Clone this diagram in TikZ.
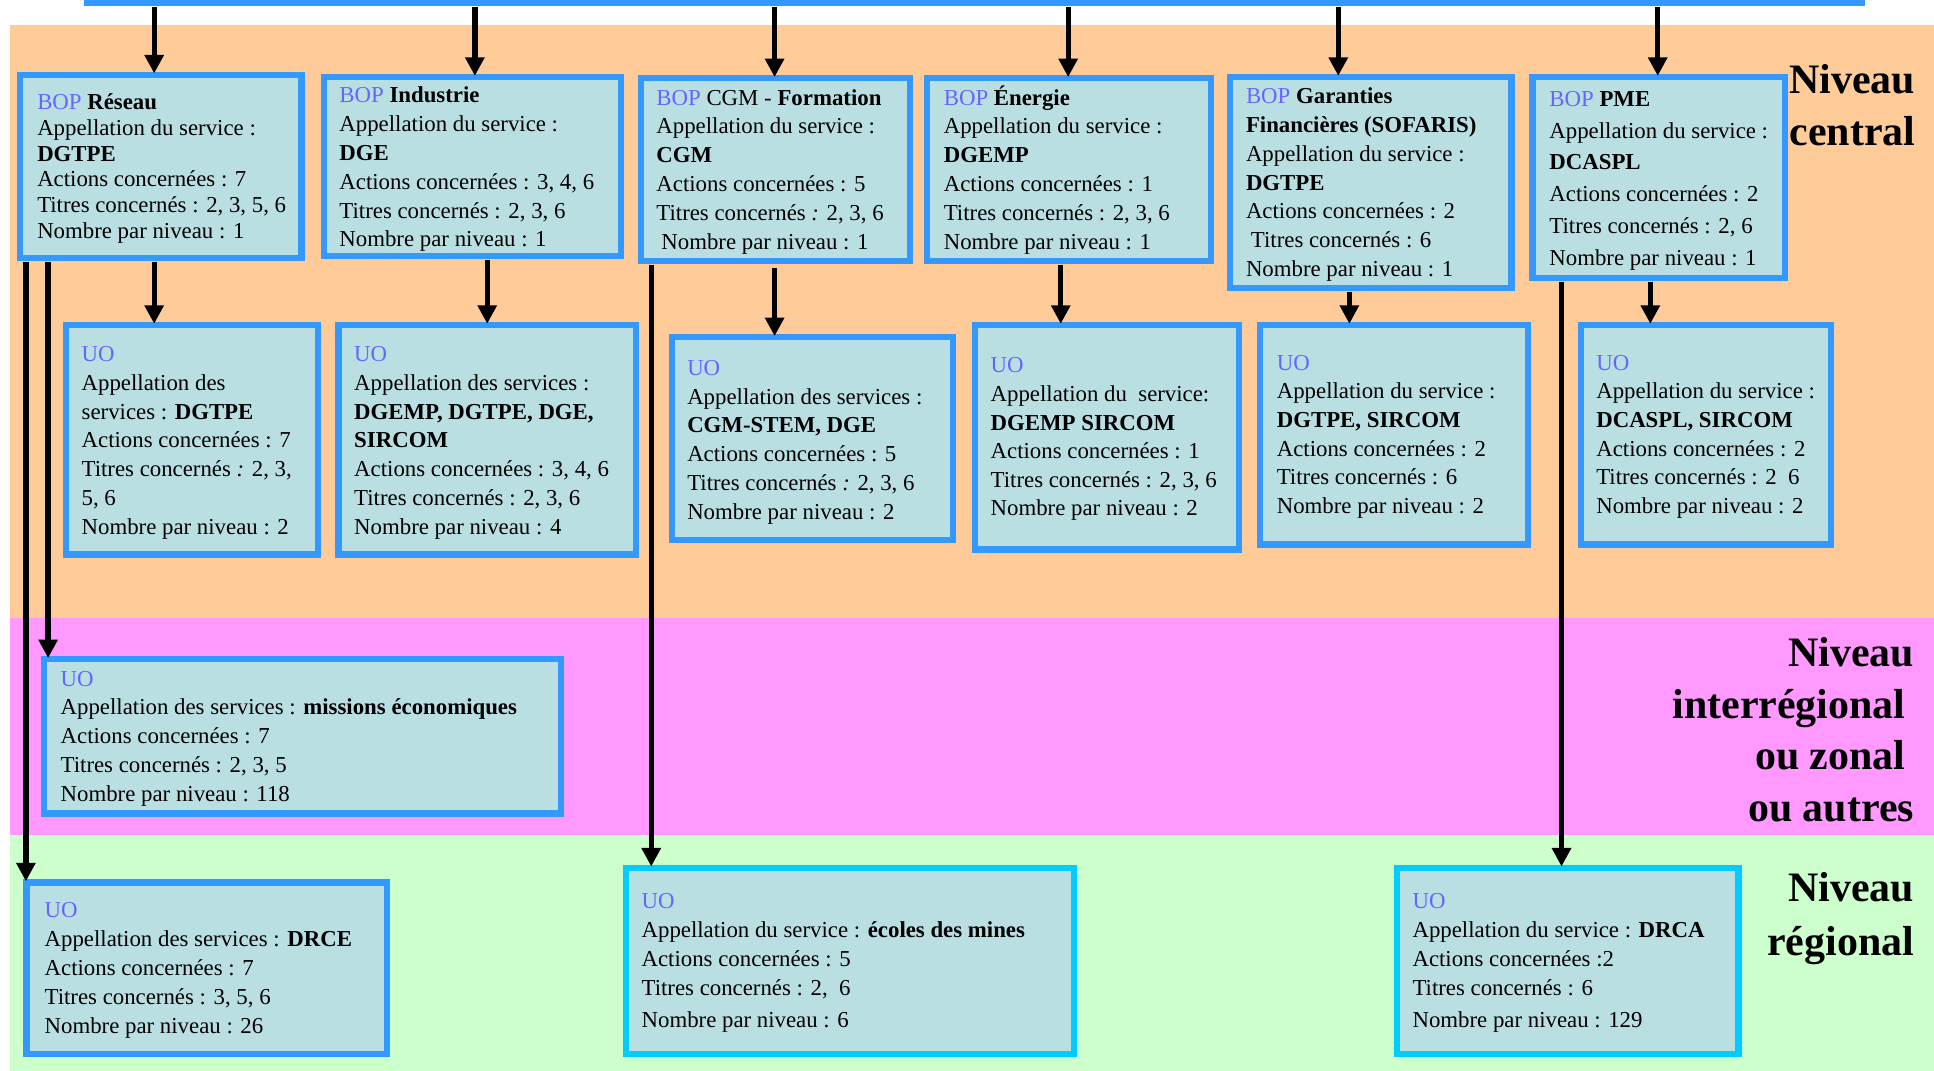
\documentclass[tikz,border=0pt]{standalone}
\usepackage{fontspec}
\setmainfont{Liberation Serif}
\usetikzlibrary{arrows.meta,calc}
\definecolor{boxfill}{HTML}{BADFE3}
\definecolor{boxblue}{HTML}{3399FF}
\definecolor{boxcyan}{HTML}{00CCFF}
\definecolor{bandorange}{HTML}{FFCC99}
\definecolor{bandpink}{HTML}{FF99FF}
\definecolor{bandgreen}{HTML}{CCFFCC}
\definecolor{bopcol}{HTML}{6666FF}
\definecolor{toppink}{HTML}{F8C8D0}
\newcommand{\mkbox}[6]{\node[#6, minimum width={(#4-(#2)-5)*1pt}, minimum height={(#5-(#3)-5)*1pt}] (#1) at ({(#2+#4)/2},{(#3+#5)/2}) {};}
\newcommand{\bop}{\textcolor{bopcol}{BOP}}
\newcommand{\uo}{\textcolor{bopcol}{UO}}
\tikzset{
  bx/.style={draw=boxblue, fill=boxfill, line width=5pt, rectangle, inner sep=0pt, outer sep=0pt},
  bxc/.style={bx, draw=boxcyan},
  txt/.style={anchor=north west, inner sep=0pt, align=left, font={\fontsize{18.5}{#1}\selectfont}},
  arr/.style={line width=4.3pt, shorten <=3pt, shorten >=1pt, -{Triangle[width=15pt,length=15pt]}},
  lvl/.style={anchor=north east, inner sep=0pt, align=right, font={\fontsize{34}{#1}\selectfont\bfseries}},
}
\begin{document}
\begin{tikzpicture}[x=1pt,y=-1pt]
\clip (0,0) rectangle (1568,868);
\fill[white] (0,0) rectangle (1568,868);
\fill[bandorange] (8,20) rectangle (1568,501);
\fill[bandpink] (8,501) rectangle (1568,677);
\fill[bandgreen] (8,677) rectangle (1568,868);

% boxes
\mkbox{top}{68}{-30}{1512}{5}{bx,fill=toppink}
\mkbox{b1}{14}{58}{247}{212}{bx}
\mkbox{b2}{260}{60}{506}{210}{bx}
\mkbox{b3}{517}{61}{740}{214}{bx}
\mkbox{b4}{749}{61}{984}{214}{bx}
\mkbox{b5}{995}{60}{1228}{236}{bx}
\mkbox{b6}{1240}{60}{1450}{228}{bx}
\mkbox{u1}{51}{261}{260}{452}{bx}
\mkbox{u2}{272}{261}{518}{452}{bx}
\mkbox{u3}{542}{271}{775}{440}{bx}
\mkbox{u4}{788}{261}{1007}{448}{bx}
\mkbox{u5}{1019}{261}{1241}{444}{bx}
\mkbox{u6}{1279}{261}{1487}{444}{bx}
\mkbox{miss}{33}{532}{457}{662}{bx}
\mkbox{drce}{19}{713}{316}{857}{bx}
\mkbox{ecol}{505}{701}{873}{857}{bxc}
\mkbox{drca}{1130}{701}{1412}{857}{bxc}

% texts
\node[txt=20.8] (t1) at (30,74.4) {\strut\bop{} \textbf{Réseau}\\Appellation du service :\\\textbf{DGTPE}\\Actions concernées : 7\\Titres concernés : 2, 3, 5, 6\\Nombre par niveau : 1};
\node[txt=23.4] (t2) at (275,66.6) {\strut\bop{} \textbf{Industrie}\\Appellation du service :\\\textbf{DGE}\\Actions concernées : 3, 4, 6\\Titres concernés : 2, 3, 6\\Nombre par niveau : 1};
\node[txt=23.4] (t3) at (532,68.6) {\strut\bop{} CGM - \textbf{Formation}\\Appellation du service :\\\textbf{CGM}\\Actions concernées : 5\\Titres concernés \textit{:} 2, 3, 6\\\hspace*{4pt}Nombre par niveau : 1};
\node[txt=23.4] (t4) at (765,68.6) {\strut\bop{} \textbf{Énergie}\\Appellation du service :\\\textbf{DGEMP}\\Actions concernées : 1\\Titres concernés : 2, 3, 6\\Nombre par niveau : 1};
\node[txt=23.3] (t5) at (1010,67.7) {\strut\bop{} \textbf{Garanties}\\\textbf{Financières (SOFARIS)}\\Appellation du service :\\\textbf{DGTPE}\\Actions concernées : 2\\\hspace*{4pt}Titres concernés : 6\\Nombre par niveau : 1};
\node[txt=25.8] (t6) at (1256,67.9) {\strut\bop{} \textbf{PME}\\Appellation du service :\\\textbf{DCASPL}\\Actions concernées : 2\\Titres concernés : 2, 6\\Nombre par niveau : 1};

\node[txt=23.3] (tu1) at (66,276.7) {\strut\uo\\Appellation des\\services : \textbf{DGTPE}\\Actions concernées : 7\\Titres concernés \textit{:} 2, 3,\\5, 6\\Nombre par niveau : 2};
\node[txt=23.3] (tu2) at (287,276.7) {\strut\uo\\Appellation des services :\\\textbf{DGEMP, DGTPE, DGE,}\\\textbf{SIRCOM}\\Actions concernées : 3, 4, 6\\Titres concernés : 2, 3, 6\\Nombre par niveau : 4};
\node[txt=23.4] (tu3) at (557,287.6) {\strut\uo\\Appellation des services :\\\textbf{CGM-STEM, DGE}\\Actions concernées : 5\\Titres concernés \textit{:} 2, 3, 6\\Nombre par niveau : 2};
\node[txt=23.2] (tu4) at (803,285.8) {\strut\uo\\Appellation du\ \ service:\\\textbf{DGEMP SIRCOM}\\Actions concernées : 1\\Titres concernés : 2, 3, 6\\Nombre par niveau : 2};
\node[txt=23.2] (tu5) at (1035,283.8) {\strut\uo\\Appellation du service :\\\textbf{DGTPE, SIRCOM}\\Actions concernées : 2\\Titres concernés : 6\\Nombre par niveau : 2};
\node[txt=23.2] (tu6) at (1294,283.8) {\strut\uo\\Appellation du service :\\\textbf{DCASPL, SIRCOM}\\Actions concernées : 2\\Titres concernés : 2\ \ 6\\Nombre par niveau : 2};

\node[txt=23.4] (tmiss) at (49,539.6) {\strut\uo\\Appellation des services : \textbf{missions économiques}\\Actions concernées : 7\\Titres concernés : 2, 3, 5\\Nombre par niveau : 118};
\node[txt=23.5] (tdrce) at (36,727.5) {\strut\uo\\Appellation des services : \textbf{DRCE}\\Actions concernées : 7\\Titres concernés : 3, 5, 6\\Nombre par niveau : 26};
\node[txt=23.5] (tecol) at (520,720.2) {\strut\uo\\Appellation du service : \textbf{écoles des mines}\\Actions concernées : 5\\Titres concernés : 2,\ \ 6\\[2.5pt]Nombre par niveau : 6};
\node[txt=23.5] (tdrca) at (1145,720.2) {\strut\uo\\Appellation du service : \textbf{DRCA}\\Actions concernées :2\\Titres concernés : 6\\[2.5pt]Nombre par niveau : 129};

% level labels
\node[lvl=42] (lc) at (1553,46.6) {\strut Niveau\\central};
\node[lvl=42] (li) at (1552,510.6) {\strut Niveau\\interrégional\kern7pt\\ou zonal\kern7pt\\ou autres};
\node[lvl=44] (lr) at (1552,700) {\strut Niveau\\régional};

% connector x positions
\coordinate (c21) at (21,0);
\coordinate (c39) at (39,0);
\coordinate (c125) at (125,0);
\coordinate (c385) at (385,0);
\coordinate (c395) at (395,0);
\coordinate (c528) at (528,0);
\coordinate (c628) at (628,0);
\coordinate (c860) at (860,0);
\coordinate (c866) at (866,0);
\coordinate (c1085) at (1085,0);
\coordinate (c1094) at (1094,0);
\coordinate (c1266) at (1266,0);
\coordinate (c1338) at (1338,0);
\coordinate (c1344) at (1344,0);

% arrows from top
\draw[arr] (c125 |- top.south) -- (c125 |- b1.north);
\draw[arr] (c385 |- top.south) -- (c385 |- b2.north);
\draw[arr] (c628 |- top.south) -- (c628 |- b3.north);
\draw[arr] (c866 |- top.south) -- (c866 |- b4.north);
\draw[arr] (c1085 |- top.south) -- (c1085 |- b5.north);
\draw[arr] (c1344 |- top.south) -- (c1344 |- b6.north);
% BOP to UO
\draw[arr] (c125 |- b1.south) -- (c125 |- u1.north);
\draw[arr] (c395 |- b2.south) -- (c395 |- u2.north);
\draw[arr, shorten <=6pt] (c628 |- b3.south) -- (c628 |- u3.north);
\draw[arr] (c860 |- b4.south) -- (c860 |- u4.north);
\draw[arr] (c1094 |- b5.south) -- (c1094 |- u5.north);
\draw[arr] (c1338 |- b6.south) -- (c1338 |- u6.north);
% long connectors
\draw[arr] (c39 |- b1.south) -- (c39 |- miss.north);
\draw[arr] (c21 |- b1.south) -- (c21 |- drce.north);
\draw[arr] (c528 |- b3.south) -- (c528 |- ecol.north);
\draw[arr] (c1266 |- b6.south) -- (c1266 |- drca.north);
\end{tikzpicture}
\end{document}
